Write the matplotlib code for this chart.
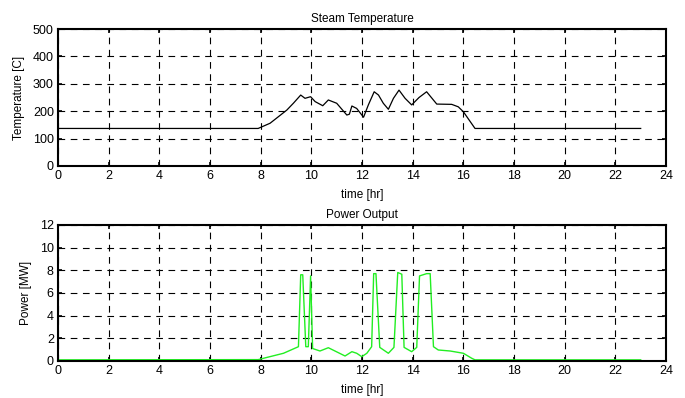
"""
Steam temperature and power output over one day
"""
import matplotlib
matplotlib.use("Agg")
import matplotlib.pyplot as plt

plt.rcParams['font.family'] = ['Liberation Sans', 'DejaVu Sans']
plt.rcParams['font.size'] = 8

# Steam temperature [C] vs time [hr]
temp_hr = [0, 7.9, 8.37, 9.03, 9.29, 9.58, 9.75, 9.97, 10.15, 10.45, 10.67, 11.0,
           11.4, 11.5, 11.6, 11.79, 12.06, 12.25, 12.48, 12.65, 12.84, 13.04, 13.24,
           13.46, 13.7, 13.96, 14.25, 14.55, 14.95, 15.54, 15.8, 16.0, 16.46, 23.0]
temp_c = [137, 137, 156, 204, 229, 259, 247, 253, 235, 220, 241, 229,
          186, 189, 219, 210, 178, 223, 271, 259, 229, 207, 247,
          277, 247, 223, 250, 271, 226, 225, 216, 198, 137, 137]

# Power output [MW] vs time [hr]
power_hr = [0, 7.9, 8.9, 9.49, 9.58, 9.66, 9.78, 9.88, 9.97, 10.05, 10.34, 10.67,
            11.33, 11.6, 11.79, 11.99, 12.19, 12.38, 12.46, 12.55, 12.7, 13.04,
            13.26, 13.41, 13.57, 13.66, 13.96, 14.16, 14.27, 14.55, 14.69, 14.82,
            15.01, 15.48, 16.0, 16.33, 16.46, 23.0]
power_mw = [0.1, 0.12, 0.68, 1.26, 7.6, 7.6, 1.26, 1.26, 7.5, 1.1, 0.88, 1.17,
            0.44, 0.82, 0.68, 0.38, 0.68, 1.26, 7.7, 7.7, 1.2, 0.68,
            1.2, 7.8, 7.65, 1.2, 0.82, 1.2, 7.5, 7.7, 7.7, 1.26,
            0.97, 0.88, 0.68, 0.24, 0.1, 0.1]


def style_axes(ax, ylim, yticks):
    ax.set_xlim(0, 24)
    ax.set_xticks(range(0, 25, 2))
    ax.set_ylim(*ylim)
    ax.set_yticks(yticks)
    ax.tick_params(direction='in', top=True, right=True, length=3, width=1.2,
                   labelsize=9, pad=3)
    ax.grid(True, color='black', linestyle=(0, (6, 5)), linewidth=0.8)
    for sp in ax.spines.values():
        sp.set_linewidth(1.5)
    ax.set_xlabel('time [hr]', fontsize=8.5, labelpad=5)


fig = plt.figure(figsize=(6.85, 3.98), dpi=100)
ax1 = fig.add_axes([0.0847, 0.583, 0.8876, 0.344])
ax2 = fig.add_axes([0.0847, 0.093, 0.8876, 0.342])

# 1. 温度
ax1.plot(temp_hr, temp_c, color='black', linewidth=0.9)
style_axes(ax1, (0, 500), range(0, 501, 100))
ax1.set_ylabel('Temperature [C]', fontsize=8.5, labelpad=6)
ax1.set_title('Steam Temperature', fontsize=8.5, pad=5)

# 2. 功率
ax2.plot(power_hr, power_mw, color='#22ee22', linewidth=1.0)
style_axes(ax2, (0, 12), range(0, 13, 2))
ax2.set_ylabel('Power [MW]', fontsize=8.5, labelpad=6)
ax2.set_title('Power Output', fontsize=8.5, pad=5)

fig.savefig('out.png', dpi=100)
